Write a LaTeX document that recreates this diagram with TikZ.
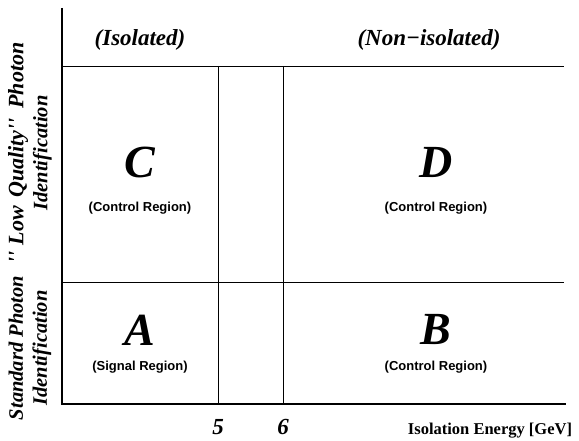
\documentclass[tikz,border=0pt]{standalone}
\usepackage{fontspec}
\setmainfont{Liberation Serif}
\newfontfamily\helv{Liberation Sans}

\begin{document}
\begin{tikzpicture}[x=1pt,y=-1pt]
\tikzstyle{every node}+=[inner sep=0pt]
\tikzstyle{axis}=[line width=2.4pt]
\tikzstyle{cut}=[line width=0.9pt]
\tikzstyle{letter}=[font=\fontsize{46}{46}\selectfont\bfseries\itshape]
\tikzstyle{head}=[font=\fontsize{23}{23}\selectfont\bfseries\itshape]
\tikzstyle{tick}=[font=\fontsize{23}{23}\selectfont\bfseries\itshape]
\tikzstyle{note}=[font=\fontsize{13}{13}\selectfont\helv\bfseries]
\tikzstyle{ylab}=[font=\fontsize{20.5}{24}\selectfont\bfseries\itshape, rotate=90, align=center]
\useasboundingbox (0,0) rectangle (579,441);
% axes
\coordinate (top) at (62,8);
\coordinate (org) at (62,404);
\coordinate (end) at (566,404);
\draw [axis] (top) -- (org) -- (end);
% cuts
\coordinate (h1l) at (62,66);
\coordinate (h1r) at (564,66);
\coordinate (h2l) at (62,282);
\coordinate (h2r) at (564,282);
\coordinate (v5t) at (218,66);
\coordinate (v5b) at (218,404);
\coordinate (v6t) at (283,66);
\coordinate (v6b) at (283,404);
\draw [cut] (h1l) -- (h1r);
\draw [cut] (h2l) -- (h2r);
\draw [cut] (v5t) -- (v5b);
\draw [cut] (v6t) -- (v6b);
% column heads
\node [head] (iso) at (140,40) {(Isolated)};
\node [head] (noniso) at (429,40) {(Non−isolated)};
% regions
\node [letter] (regC) at (140,162) {C};
\node [note] (noteC) at (140,208) {(Control Region)};
\node [letter] (regD) at (436,162) {D};
\node [note] (noteD) at (436,208) {(Control Region)};
\node [letter] (regA) at (140,330) {A};
\node [note] (noteA) at (140,367) {(Signal Region)};
\node [letter] (regB) at (436,330) {B};
\node [note] (noteB) at (436,367) {(Control Region)};
% axis labels
\node [tick] (cut5) at (218,427) {5};
\node [tick] (cut6) at (283,427) {6};
\node [font=\fontsize{16.5}{16.5}\selectfont\bfseries] (xlab) at (490,431) {Isolation Energy [GeV]};
\node [ylab] (ylow) at (30,153)
  {{\fontsize{22}{24}\selectfont\textquotesingle\textquotesingle\hspace{6pt}Low\hspace{3pt} Quality\textquotesingle\textquotesingle\hspace{4pt} Photon}\\Identification};
\node [ylab] (ystd) at (30,348) {Standard Photon\\Identification};
\end{tikzpicture}
\end{document}
